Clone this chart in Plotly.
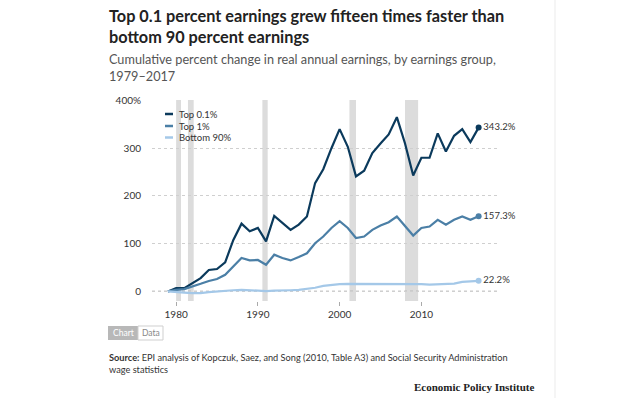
import plotly.graph_objects as go

years = list(range(1979, 2018))
top01 = [0, 7, 7, 17, 28, 45, 47, 61, 108, 142, 126, 133, 105, 158, 143, 129, 140, 157,
         227, 256, 300, 340, 303, 241, 253, 290, 310, 329, 365, 310, 243, 280, 280, 331,
         293, 326, 340, 313, 343.2]
top1 = [0, 3.5, 5, 10, 16, 22, 26, 35, 52, 70, 65, 66, 56, 77, 70, 65, 72, 80,
        101, 115, 133, 147, 133, 112, 115, 129, 138, 145, 157, 137, 117, 133, 136, 150,
        140, 150, 157, 150, 157.3]
bottom90 = [0, -1.9, -2.3, -3.6, -3.3, -1.3, 0.3, 2.0, 2.5, 3.5, 2.6, 1.5, 0.8, 1.6, 1.3,
            2.5, 3.2, 4.8, 7.8, 11.5, 13.5, 15.3, 15.8, 15.7, 15.9, 15.8, 15.5, 16.1, 16.7,
            16.0, 15.2, 15.3, 14.3, 14.6, 14.6, 16.3, 20.0, 21.0, 22.2]
series_names = ["Top 0.1%", "Top 1%", "Bottom 90%"]
end_labels = ["343.2%", "157.3%", "22.2%"]
recessions = [(1980.0, 1980.6), (1981.45, 1982.15), (1990.55, 1991.2),
              (2001.2, 2002.0), (2008.0, 2009.6)]
y_tickvals = [0, 100, 200, 300, 400]
y_ticktext = ["0", "100", "200", "300", "400%"]
x_tickvals = [1980, 1990, 2000, 2010]

colors = ["#0b3a5c", "#4b7fa6", "#a4c8e8"]
FONT = "Lato"

fig = go.Figure()
for name, vals, col, lab in zip(series_names, [top01, top1, bottom90], colors, end_labels):
    fig.add_trace(go.Scatter(x=years, y=vals, mode="lines", name=name,
                             line=dict(color=col, width=2.2), showlegend=False,
                             hoverinfo="skip", cliponaxis=False))
    fig.add_trace(go.Scatter(x=[years[-1]], y=[vals[-1]], mode="markers+text",
                             marker=dict(color=col, size=6), text=[lab],
                             textposition="middle right",
                             textfont=dict(family=FONT, size=9.5, color="#333"),
                             showlegend=False, hoverinfo="skip", cliponaxis=False))

W, H = 635, 398
ml, mr, mt, mb = 152, 138, 100, 97
pw, ph = W - ml - mr, H - mt - mb


def px(x):
    return (x - ml) / pw


def py(y):
    return (H - mb - y) / ph


shapes = []
for a, b in recessions:
    shapes.append(dict(type="rect", xref="x", yref="paper", x0=a, x1=b, y0=0, y1=1,
                       fillcolor="#dcdcdc", line=dict(width=0), layer="below"))
shapes.append(dict(type="line", xref="paper", yref="y", x0=0, x1=1, y0=0, y1=0,
                   line=dict(color="#999", width=1.2, dash="dot"), layer="below"))
# right border of card
shapes.append(dict(type="line", xref="paper", yref="paper", x0=px(555), x1=px(555),
                   y0=py(398), y1=py(0), line=dict(color="#ebebeb", width=1)))

annotations = []
# legend
leg_y = [114, 126, 137.5]
for name, col, yy in zip(series_names, colors, leg_y):
    shapes.append(dict(type="line", xref="paper", yref="paper", x0=px(165), x1=px(173),
                       y0=py(yy), y1=py(yy), line=dict(color=col, width=2.5)))
    annotations.append(dict(xref="paper", yref="paper", x=px(177), y=py(yy), text=name,
                            showarrow=False, xanchor="left", yanchor="middle",
                            font=dict(family=FONT, size=9.5, color="#333")))

# title & subtitle
annotations.append(dict(xref="paper", yref="paper", x=px(107), y=py(4),
                        text="<b>Top 0.1 percent earnings grew fifteen times faster than<br>bottom 90 percent earnings</b>",
                        showarrow=False, xanchor="left", yanchor="top", align="left",
                        font=dict(family=FONT, size=16.3, color="#222")))
annotations.append(dict(xref="paper", yref="paper", x=px(107), y=py(49),
                        text="Cumulative percent change in real annual earnings, by earnings group,<br>1979–2017",
                        showarrow=False, xanchor="left", yanchor="top", align="left",
                        font=dict(family=FONT, size=12.7, color="#555")))

# Chart / Data buttons
shapes.append(dict(type="rect", xref="paper", yref="paper", x0=px(108), x1=px(138),
                   y0=py(340), y1=py(326), fillcolor="#b8b8b8", line=dict(width=0),
                   layer="below"))
shapes.append(dict(type="rect", xref="paper", yref="paper", x0=px(138), x1=px(163),
                   y0=py(340), y1=py(326), fillcolor="white",
                   line=dict(color="#cfcfcf", width=1), layer="below"))
annotations.append(dict(xref="paper", yref="paper", x=px(123), y=py(333), text="Chart",
                        showarrow=False, xanchor="center", yanchor="middle",
                        font=dict(family=FONT, size=8.5, color="white")))
annotations.append(dict(xref="paper", yref="paper", x=px(150.5), y=py(333), text="Data",
                        showarrow=False, xanchor="center", yanchor="middle",
                        font=dict(family=FONT, size=8.5, color="#888")))

# source
annotations.append(dict(xref="paper", yref="paper", x=px(107), y=py(350),
                        text="<b>Source:</b> EPI analysis of Kopczuk, Saez, and Song (2010, Table A3) and Social Security Administration<br>wage statistics",
                        showarrow=False, xanchor="left", yanchor="top", align="left",
                        font=dict(family=FONT, size=9.2, color="#333")))
annotations.append(dict(xref="paper", yref="paper", x=px(536), y=py(387),
                        text="<b>Economic Policy Institute</b>",
                        showarrow=False, xanchor="right", yanchor="middle",
                        font=dict(family="Liberation Serif", size=11, color="#222")))

fig.update_layout(
    width=W, height=H,
    margin=dict(l=ml, r=mr, t=mt, b=mb, pad=0),
    paper_bgcolor="white", plot_bgcolor="white",
    showlegend=False,
    shapes=shapes, annotations=annotations,
    xaxis=dict(range=[1977.05, 2019.25], tickvals=x_tickvals, showgrid=False,
               zeroline=False, showline=False, ticks="outside", ticklen=4,
               tickcolor="#aaa", tickfont=dict(family=FONT, size=10, color="#333")),
    yaxis=dict(range=[-20, 401], tickvals=y_tickvals, ticktext=y_ticktext,
               showgrid=True, gridcolor="#cfcfcf", griddash="dot", gridwidth=1,
               zeroline=False, showline=False, ticklabelstandoff=10,
               tickfont=dict(family=FONT, size=10, color="#333")),
)

fig.write_html("out.html", config={"displayModeBar": False},
               post_script="document.body.style.margin='0';document.body.style.padding='0';")
